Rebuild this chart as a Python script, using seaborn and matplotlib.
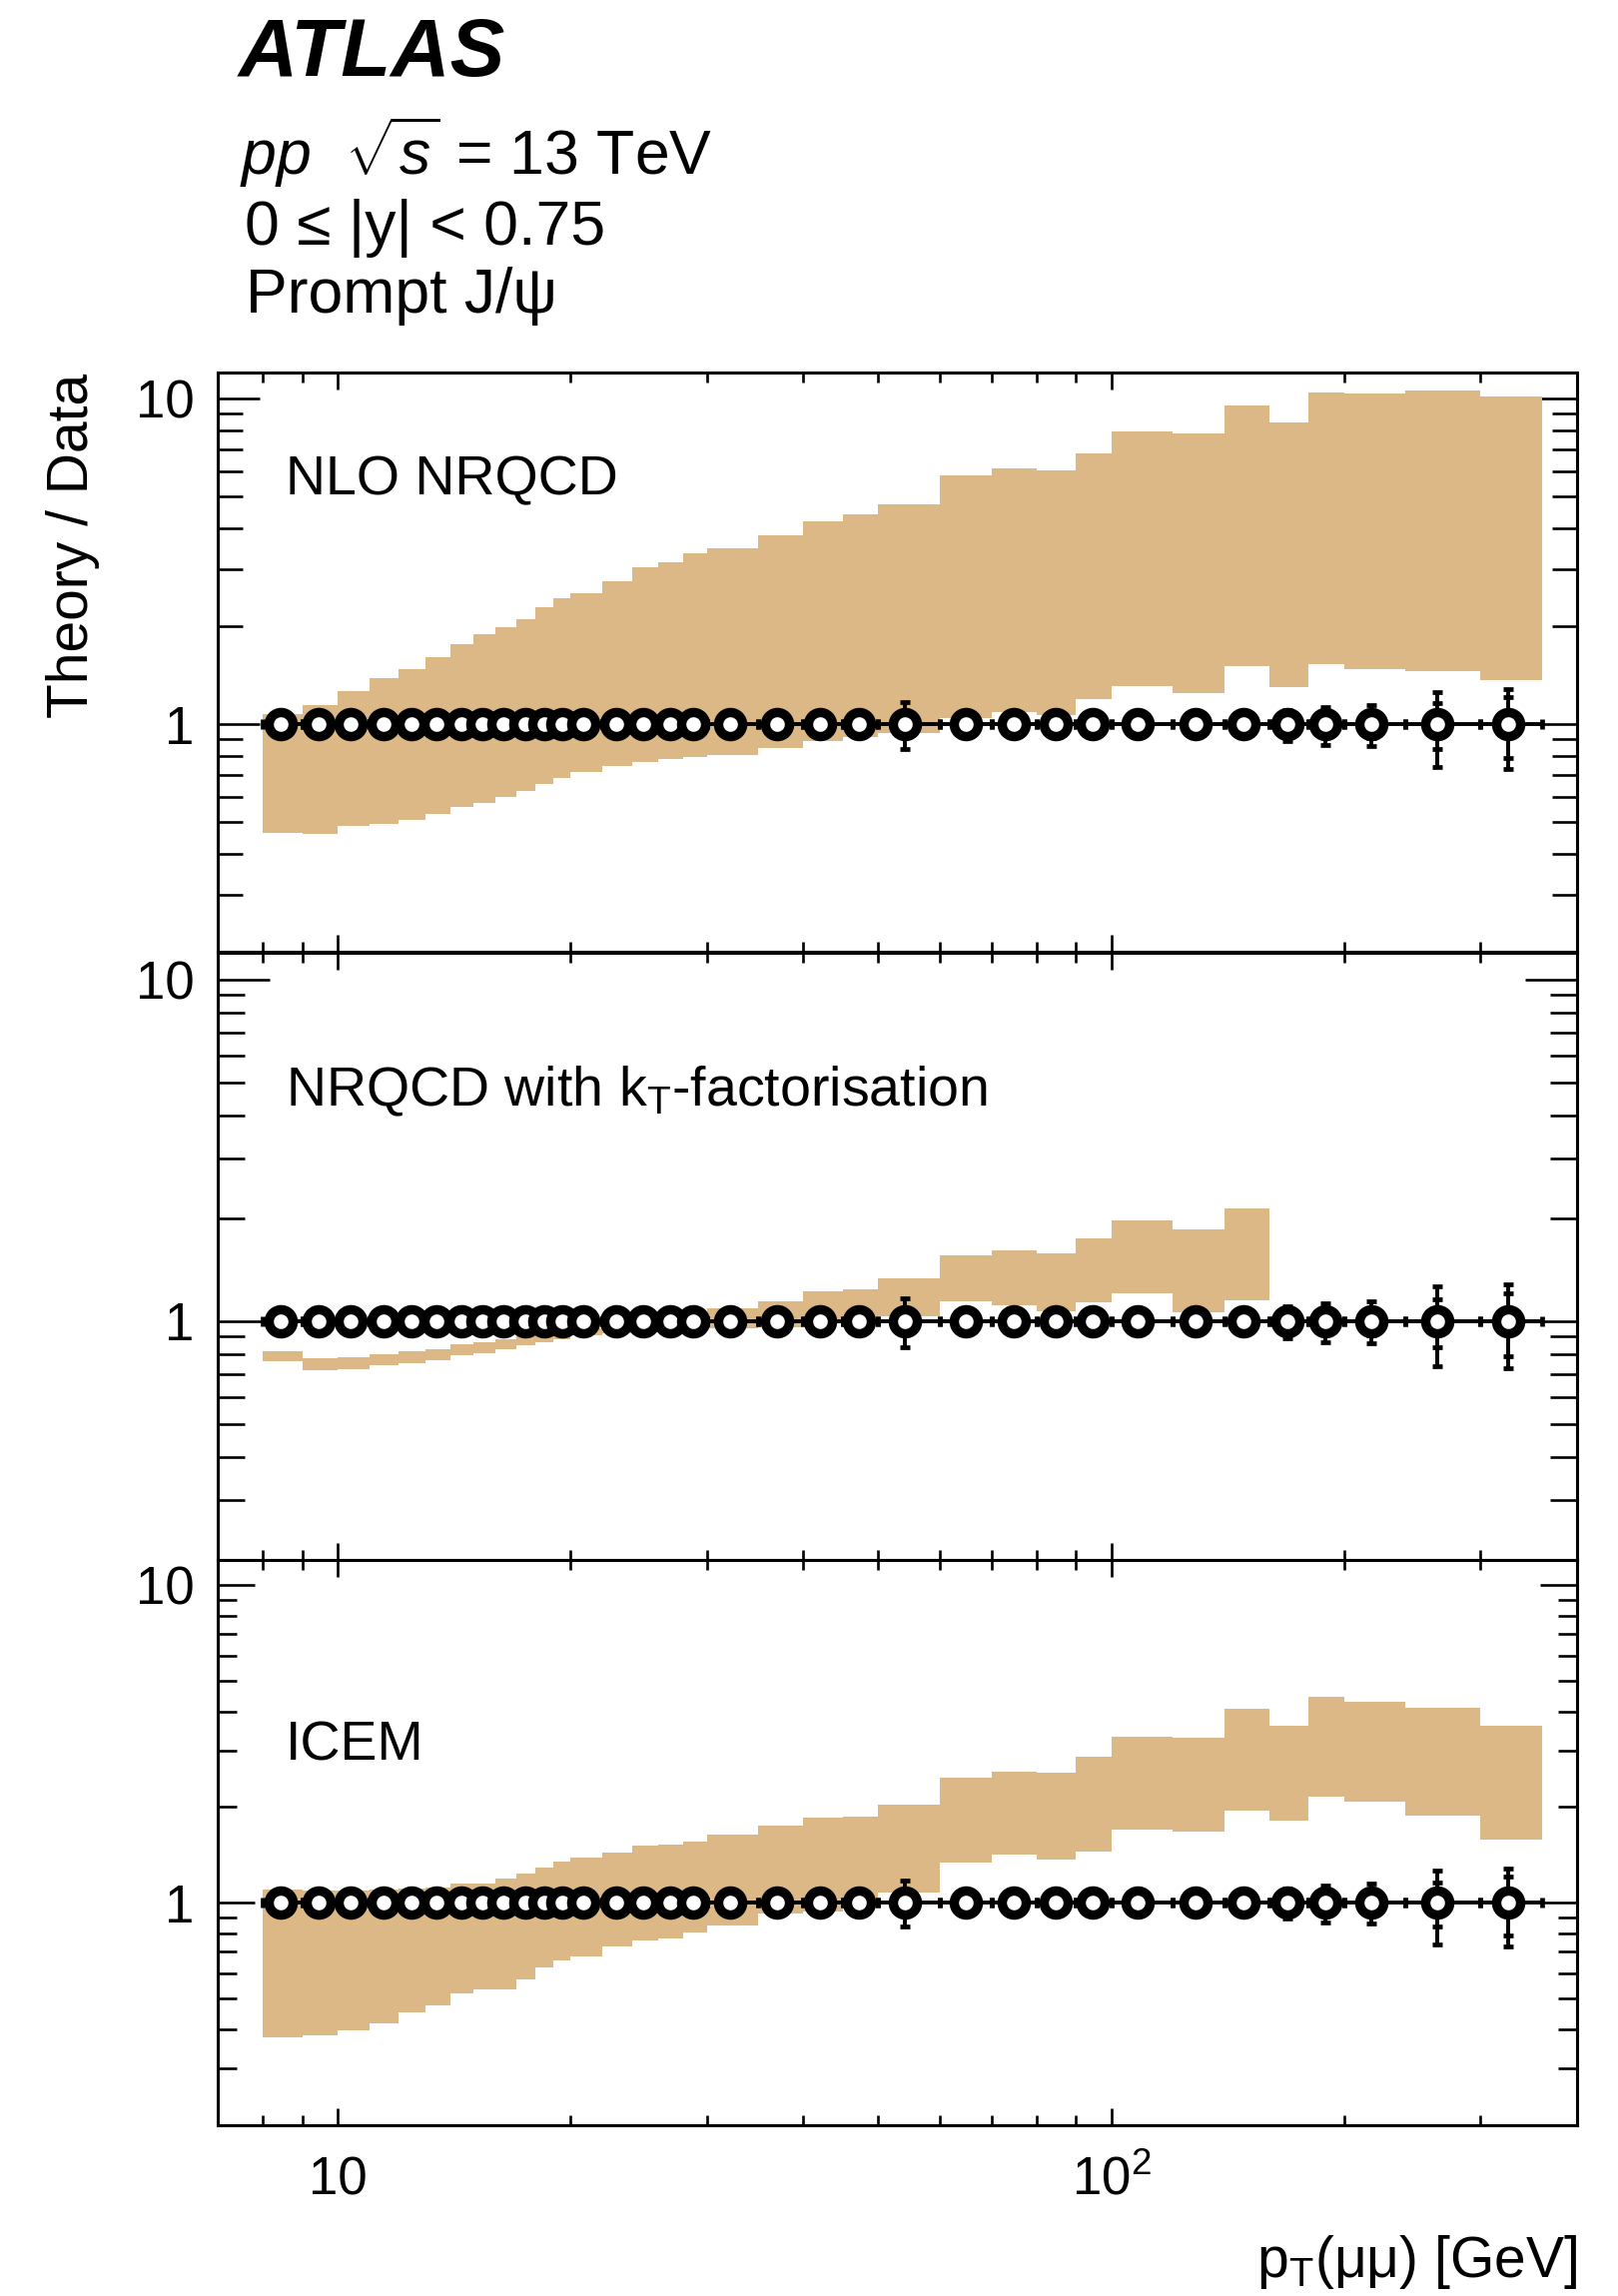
import numpy as np
import pandas as pd
import matplotlib
matplotlib.use("Agg")
import matplotlib.pyplot as plt
import seaborn as sns
from matplotlib.ticker import FixedLocator, FixedFormatter, NullFormatter

# ------------------------------------------------------------------ data
bin_edges = [8, 9, 10, 11, 12, 13, 14, 15, 16, 17, 18, 19, 20, 22, 24, 26, 28, 30,
             35, 40, 45, 50, 60, 70, 80, 90, 100, 120, 140, 160, 180, 200, 240, 300, 360]

pt_points = [8.43, 9.45, 10.4, 11.46, 12.45, 13.43, 14.45, 15.4, 16.4, 17.5, 18.5, 19.5,
             20.8, 22.9, 24.8, 26.9, 28.8, 32.2, 37.0, 42.0, 47.2, 54.1, 64.9, 74.8,
             84.7, 94.6, 108.3, 128.5, 148.4, 168.9, 189.0, 216.7, 264.0, 325.6]

ratio_data = [1.0, 1.0, 1.0, 1.0, 1.0, 1.0, 1.0, 1.0, 1.0, 1.0, 1.0, 1.0,
              1.0, 1.0, 1.0, 1.0, 1.0, 1.0, 1.0, 1.0, 1.0, 1.0, 1.0, 1.0,
              1.0, 1.0, 1.0, 1.0, 1.0, 1.0, 1.0, 1.0, 1.0, 1.0]

err_total_up = [0.035, 0.03, 0.03, 0.03, 0.03, 0.03, 0.03, 0.03, 0.03, 0.03, 0.03, 0.03,
                0.03, 0.03, 0.03, 0.03, 0.03, 0.03, 0.035, 0.035, 0.04, 0.17, 0.05, 0.05,
                0.05, 0.055, 0.055, 0.06, 0.07, 0.105, 0.13, 0.145, 0.26, 0.28]
err_total_down = [0.035, 0.03, 0.03, 0.03, 0.03, 0.03, 0.03, 0.03, 0.03, 0.03, 0.03, 0.03,
                  0.03, 0.03, 0.03, 0.03, 0.03, 0.03, 0.035, 0.035, 0.04, 0.16, 0.05, 0.05,
                  0.05, 0.055, 0.055, 0.06, 0.07, 0.11, 0.135, 0.14, 0.26, 0.27]
err_stat = [0.005, 0.005, 0.005, 0.005, 0.005, 0.005, 0.005, 0.005, 0.005, 0.005, 0.005, 0.005,
            0.005, 0.005, 0.005, 0.005, 0.006, 0.006, 0.008, 0.01, 0.012, 0.02, 0.02, 0.02,
            0.025, 0.03, 0.03, 0.035, 0.04, 0.07, 0.08, 0.09, 0.16, 0.21]

nlo_hi = [1.076, 1.145, 1.265, 1.383, 1.48, 1.61, 1.765, 1.888, 1.993, 2.11, 2.29, 2.44,
          2.53, 2.75, 3.03, 3.14, 3.35, 3.47, 3.81, 4.21, 4.42, 4.73, 5.82, 6.09,
          6.04, 6.81, 7.95, 7.84, 9.56, 8.47, 10.45, 10.37, 10.6, 10.17]
nlo_lo = [0.465, 0.46, 0.486, 0.495, 0.509, 0.53, 0.559, 0.574, 0.598, 0.623, 0.654, 0.685,
          0.714, 0.743, 0.764, 0.784, 0.795, 0.806, 0.843, 0.886, 0.915, 0.94, 1.042, 1.094,
          1.07, 1.199, 1.31, 1.248, 1.508, 1.303, 1.529, 1.48, 1.46, 1.372]

kt_hi = [0.815, 0.778, 0.786, 0.80, 0.815, 0.828, 0.856, 0.87, 0.885, 0.90, 0.915, 0.936,
         0.951, 0.965, 0.99, 1.01, 1.04, 1.09, 1.145, 1.225, 1.235, 1.335, 1.559, 1.608,
         1.583, 1.742, 1.966, 1.851, 2.131, np.nan, np.nan, np.nan, np.nan, np.nan]
kt_lo = [0.762, 0.719, 0.724, 0.741, 0.752, 0.766, 0.792, 0.804, 0.828, 0.847, 0.866, 0.885,
         0.906, 0.92, 0.93, 0.935, 0.94, 0.95, 0.96, 0.99, 1.0, 1.03, 1.14, 1.115,
         1.071, 1.132, 1.202, 1.059, 1.15, np.nan, np.nan, np.nan, np.nan, np.nan]

icem_hi = [1.10, 1.095, 1.095, 1.10, 1.105, 1.114, 1.152, 1.152, 1.189, 1.238, 1.294, 1.352,
           1.387, 1.438, 1.508, 1.52, 1.562, 1.637, 1.745, 1.856, 1.871, 2.04, 2.48, 2.585,
           2.566, 2.89, 3.337, 3.303, 4.068, 3.61, 4.44, 4.28, 4.12, 3.6]
icem_lo = [0.378, 0.383, 0.395, 0.418, 0.453, 0.476, 0.517, 0.532, 0.532, 0.573, 0.625, 0.656,
           0.678, 0.729, 0.761, 0.77, 0.803, 0.849, 0.927, 0.94, 0.96, 1.08, 1.342, 1.413,
           1.365, 1.447, 1.704, 1.675, 1.946, 1.817, 2.164, 2.084, 1.882, 1.575]

panel_labels = ["NLO NRQCD", r"NRQCD with k$_{\mathrm{T}}$-factorisation", "ICEM"]
x_tick_values = [10, 100]
x_tick_labels = ["10", r"10$^{2}$"]
x_minor_values = [8, 9, 20, 30, 40, 50, 60, 70, 80, 90, 200, 300]
y_tick_values = [1, 10]
y_tick_labels = ["1", "10"]
y_minor_values = [0.2, 0.3, 0.4, 0.5, 0.6, 0.7, 0.8, 0.9, 2, 3, 4, 5, 6, 7, 8, 9]

# ------------------------------------------------------------------ style
sns.set_theme(style="ticks")
plt.rcParams["font.family"] = ["Liberation Sans", "DejaVu Sans"]
plt.rcParams["mathtext.fontset"] = "custom"
plt.rcParams["mathtext.rm"] = "Liberation Sans"
plt.rcParams["mathtext.it"] = "Liberation Sans:italic"
plt.rcParams["mathtext.bf"] = "Liberation Sans:bold"
for key in ["text.color", "axes.labelcolor", "xtick.color", "ytick.color", "axes.edgecolor"]:
    plt.rcParams[key] = "black"

BAND = "#dbb886"
W, H = 1620, 2299
fig = plt.figure(figsize=(W / 100, H / 100), dpi=100)

left_px, right_px = 218, 1579
panels_px = [(373.4, 953.2), (953.7, 1561.9), (1561.9, 2127.5)]
tick_len_px = [(42, 25), (52, 27), (37, 19)]
label_y = [0.79, 0.748, 0.646]
bands = [(nlo_lo, nlo_hi), (kt_lo, kt_hi), (icem_lo, icem_hi)]

px2pt = 0.72
df = pd.DataFrame({"pt": pt_points, "ratio": ratio_data})
edges = np.array(bin_edges, dtype=float)
x = np.array(pt_points)
y = np.array(ratio_data)
xerr = np.vstack([x - edges[:-1], edges[1:] - x])
yerr_tot = np.vstack([np.array(err_total_down) * y, np.array(err_total_up) * y])
yerr_stat = np.array(err_stat) * y

axes = []
for i, (top, bot) in enumerate(panels_px):
    ax = fig.add_axes([left_px / W, (H - bot) / H, (right_px - left_px) / W, (bot - top) / H])
    axes.append(ax)
    lo, hi = bands[i]
    lo = np.array(lo, dtype=float)
    hi = np.array(hi, dtype=float)
    valid = ~np.isnan(hi)
    n = int(valid.sum())
    ax.stairs(hi[:n], edges[:n + 1], baseline=lo[:n], fill=True, color=BAND, lw=0, zorder=1)

    # data: total error bars with caps, inner (stat) caps
    ax.errorbar(x, y, xerr=xerr, yerr=yerr_tot, fmt="none", ecolor="black",
                elinewidth=2.8, capsize=3.8, capthick=3.4, zorder=3)
    ax.errorbar(x, y, yerr=yerr_stat, fmt="none", ecolor="black",
                elinewidth=0, capsize=3.8, capthick=3.4, zorder=3)
    sns.scatterplot(data=df, x="pt", y="ratio", ax=ax, marker="o", s=300,
                    color="white", edgecolor="black", linewidth=6.8, zorder=5, legend=False)

    ax.set_xscale("log")
    ax.set_yscale("log")
    ax.set_xlim(7, 400)
    ax.set_ylim(0.2, 12)
    ax.set_xlabel("")
    ax.set_ylabel("")

    ax.xaxis.set_major_locator(FixedLocator(x_tick_values))
    ax.xaxis.set_minor_locator(FixedLocator(x_minor_values))
    ax.xaxis.set_minor_formatter(NullFormatter())
    ax.yaxis.set_major_locator(FixedLocator(y_tick_values))
    ax.yaxis.set_major_formatter(FixedFormatter(y_tick_labels))
    ax.yaxis.set_minor_locator(FixedLocator(y_minor_values))
    ax.yaxis.set_minor_formatter(NullFormatter())
    if i == 2:
        ax.xaxis.set_major_formatter(FixedFormatter(x_tick_labels))
    else:
        ax.xaxis.set_major_formatter(NullFormatter())

    mj, mn = tick_len_px[i]
    ax.tick_params(axis="both", which="both", direction="in", top=True, right=True,
                   width=1.9, color="black", labelcolor="black")
    ax.tick_params(axis="y", which="major", length=mj * px2pt, labelsize=38, pad=17)
    ax.tick_params(axis="y", which="minor", length=mn * px2pt)
    ax.tick_params(axis="x", which="major", length=12, labelsize=38, pad=22)
    ax.tick_params(axis="x", which="minor", length=7)
    for sp in ax.spines.values():
        sp.set_linewidth(2.2)
        sp.set_color("black")
        sp.set_visible(True)

    ax.text(0.05, label_y[i], panel_labels[i], transform=ax.transAxes,
            fontsize=40, ha="left", va="baseline", color="black")

# ------------------------------------------------------------------ texts
fig.text(0.1475, (H - 76) / H, "ATLAS", fontsize=59, fontweight="bold",
         fontstyle="italic", ha="left", va="baseline", color="black")
fig.text(0.148, (H - 175) / H, r"$pp$  $\sqrt{s}$ = 13 TeV", fontsize=45,
         ha="left", va="baseline", color="black")
fig.text(0.151, (H - 245) / H, "0 ≤ |y| < 0.75", fontsize=45, ha="left",
         va="baseline", color="black")
fig.text(0.152, (H - 313) / H, "Prompt J/ψ", fontsize=45, ha="left",
         va="baseline", color="black")

fig.text(73 / W, (H - 374) / H, "Theory / Data", rotation=90, fontsize=41,
         ha="center", va="top", color="black")
fig.text(right_px / W, 19 / H, r"p$_{\mathrm{T}}$(μμ) [GeV]", fontsize=41,
         ha="right", va="baseline", color="black")

fig.savefig("out.png", dpi=100, facecolor="white")
